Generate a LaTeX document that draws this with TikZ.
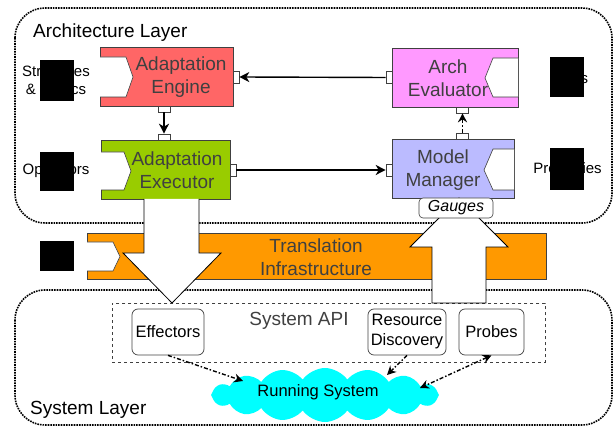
\documentclass[tikz,border=0pt]{standalone}
\usepackage{fontspec}
\setmainfont{Liberation Sans}
\usetikzlibrary{shapes.symbols,arrows.meta}
\definecolor{engc}{HTML}{FF6666}
\definecolor{exec}{HTML}{99CC00}
\definecolor{evc}{HTML}{FF99FF}
\definecolor{mmc}{HTML}{BBBBFF}
\definecolor{orc}{HTML}{FF9900}
\definecolor{txc}{HTML}{404040}
\definecolor{cloudc}{HTML}{00FFFF}
\begin{document}
\begin{tikzpicture}[x=1pt,y=-1pt,
  layerbox/.style={draw, densely dotted, line width=1.6pt, rounded corners=30pt},
  compbox/.style={draw=black!75, line width=0.6pt, inner sep=0pt, anchor=north west},
  complabel/.style={align=center, text=txc, font=\fontsize{19}{23}\selectfont, inner sep=0pt},
  sidelabel/.style={align=center, text=black, font=\fontsize{15}{18}\selectfont, inner sep=0pt},
  pent/.style={draw=black!75, fill=white, line width=0.6pt},
  port/.style={draw=black!75, fill=white, line width=0.6pt, inner sep=0pt},
  hport/.style={port, minimum width=12pt, minimum height=6pt},
  vport/.style={port, minimum width=6pt, minimum height=12pt},
  redact/.style={fill=black, draw=none},
  conn/.style={line width=1.4pt, -{Stealth[length=10pt,width=10pt,inset=3pt]}},
  dashconn/.style={line width=1.4pt, dash pattern=on 4pt off 2pt on 1.5pt off 2pt},
  bigarrow/.style={draw=black, fill=white, line width=0.8pt},
  apibox/.style={draw=black!75, rounded corners=6pt, line width=0.7pt, align=center, font=\fontsize{16.5}{20}\selectfont, inner sep=0pt}
]
\useasboundingbox (0,0) rectangle (614,427);

% layers
\draw[layerbox] (15,8) rectangle (612,223);
\draw[layerbox] (15,290) rectangle (612,425);
\node[anchor=base west, font=\fontsize{19}{23}\selectfont, inner sep=0pt] (archlbl) at (33,38) {Architecture Layer};
\node[anchor=base west, font=\fontsize{19}{23}\selectfont, inner sep=0pt] (syslbl) at (30,415) {System Layer};

% translation infrastructure
\node[compbox, fill=orc, minimum width=459pt, minimum height=46pt] (trans) at (87,233) {};
\node[complabel] (translbl) at (316,257) {Translation\\Infrastructure};
\draw[pent] (87,242) -- (113,242) -- (120,256.5) -- (113,271) -- (87,271);

% system API
\node[draw=black!75, dashed, line width=0.7pt, minimum width=433pt, minimum height=59pt, inner sep=0pt, anchor=north west] (api) at (112,303) {};
\node[text=txc, font=\fontsize{19}{23}\selectfont, inner sep=0pt] (apilbl) at (299,321) {System API};

% components
\node[compbox, fill=engc, minimum width=133pt, minimum height=59pt] (eng) at (100,47) {};
\draw[pent] (100,57) -- (126,57) -- (133,77) -- (126,97) -- (100,97);
\node[complabel] (englbl) at (181,77) {Adaptation\\Engine};

\node[compbox, fill=exec, minimum width=129pt, minimum height=59pt] (exe) at (101,140) {};
\draw[pent] (101,152) -- (124,152) -- (131,171) -- (124,190) -- (101,190);
\node[complabel] (exelbl) at (177,170) {Adaptation\\Executor};

\node[compbox, fill=evc, minimum width=126pt, minimum height=59pt] (ev) at (392,48) {};
\draw[pent] (518,58) -- (493,58) -- (485,78) -- (493,97) -- (518,97);
\node[complabel] (evlbl) at (448,78) {Arch\\Evaluator};

\node[compbox, fill=mmc, minimum width=122pt, minimum height=59pt] (mm) at (392,139) {};
\draw[pent] (514,149) -- (493,149) -- (484,170) -- (493,190) -- (514,190);
\node[complabel] (mmlbl) at (443,170) {Model\\Manager};

% ports
\node[vport] (engR) at (236,77) {};
\node[hport] (engB) at (164,109) {};
\node[hport] (exeT) at (164,137) {};
\node[vport] (exeR) at (233,170) {};
\node[vport] (evL) at (389,77.5) {};
\node[hport] (evB) at (462.5,110) {};
\node[hport] (mmT) at (462.5,136) {};
\node[vport] (mmL) at (389,170) {};

% connectors
\draw[conn] (evL.west) -- (engR.east);
\draw[conn] (engB.south) -- (exeT.north);
\draw[conn] (exeR.east) -- (mmL.west);
\draw[dashconn, -{Stealth[length=9pt,width=9pt,inset=3pt]}] (mmT.north) -- (evB.south);

% big arrows
\draw[bigarrow] (144,199) -- (144,253) -- (123,253) -- (172,303) -- (221,253) -- (199,253) -- (199,199);
\draw[bigarrow] (432,303) -- (432,247) -- (410,247) -- (459,198) -- (508,247) -- (486,247) -- (486,303) -- cycle;

% gauges
\node[draw=black!75, fill=white, rounded corners=4pt, line width=0.6pt, minimum width=74pt, minimum height=20pt, inner sep=0pt, font=\fontsize{16}{19}\selectfont\itshape] (gauges) at (456,208) {Gauges};

% side labels and redactions
\node[sidelabel] (stlbl) at (56,80) {Strategies\\\& Tactics};
\node[sidelabel] (oplbl) at (56,171) {Operators};
\node[sidelabel] (rulbl) at (569,78) {Rules};
\node[sidelabel] (prlbl) at (567.5,170) {Properties};
\fill[redact] (40,60) rectangle (74,101);
\fill[redact] (40,152) rectangle (74,191);
\fill[redact] (550,57) rectangle (584,97);
\fill[redact] (550,148) rectangle (584,190);
\fill[redact] (40,241) rectangle (74,271);

% API boxes
\node[apibox, minimum width=72pt, minimum height=46pt] (eff) at (168,332) {Effectors};
\node[apibox, minimum width=78pt, minimum height=46pt] (res) at (407,332) {Resource\\Discovery};
\node[apibox, minimum width=65pt, minimum height=46pt] (prob) at (491.5,332) {Probes};

% running system
\node[cloud, cloud puffs=16, cloud puff arc=110, aspect=4.2, fill=cloudc, draw=none, minimum width=228pt, minimum height=54pt, inner sep=0pt] (run) at (325,395) {};
\node[font=\fontsize{16.5}{20}\selectfont, inner sep=0pt] (runlbl) at (318,392) {Running System};

\coordinate (effend) at (243,381);
\coordinate (resend) at (387,375);
\coordinate (probend) at (420,388);
\draw[dashconn, -{Stealth[length=9pt,width=9pt,inset=3pt]}] (eff.south) -- (effend);
\draw[dashconn, -{Stealth[length=9pt,width=9pt,inset=3pt]}] (res.south) -- (resend);
\draw[dashconn, {Stealth[length=9pt,width=9pt,inset=3pt]}-{Stealth[length=9pt,width=9pt,inset=3pt]}] (prob.south) -- (probend);
\end{tikzpicture}
\end{document}
